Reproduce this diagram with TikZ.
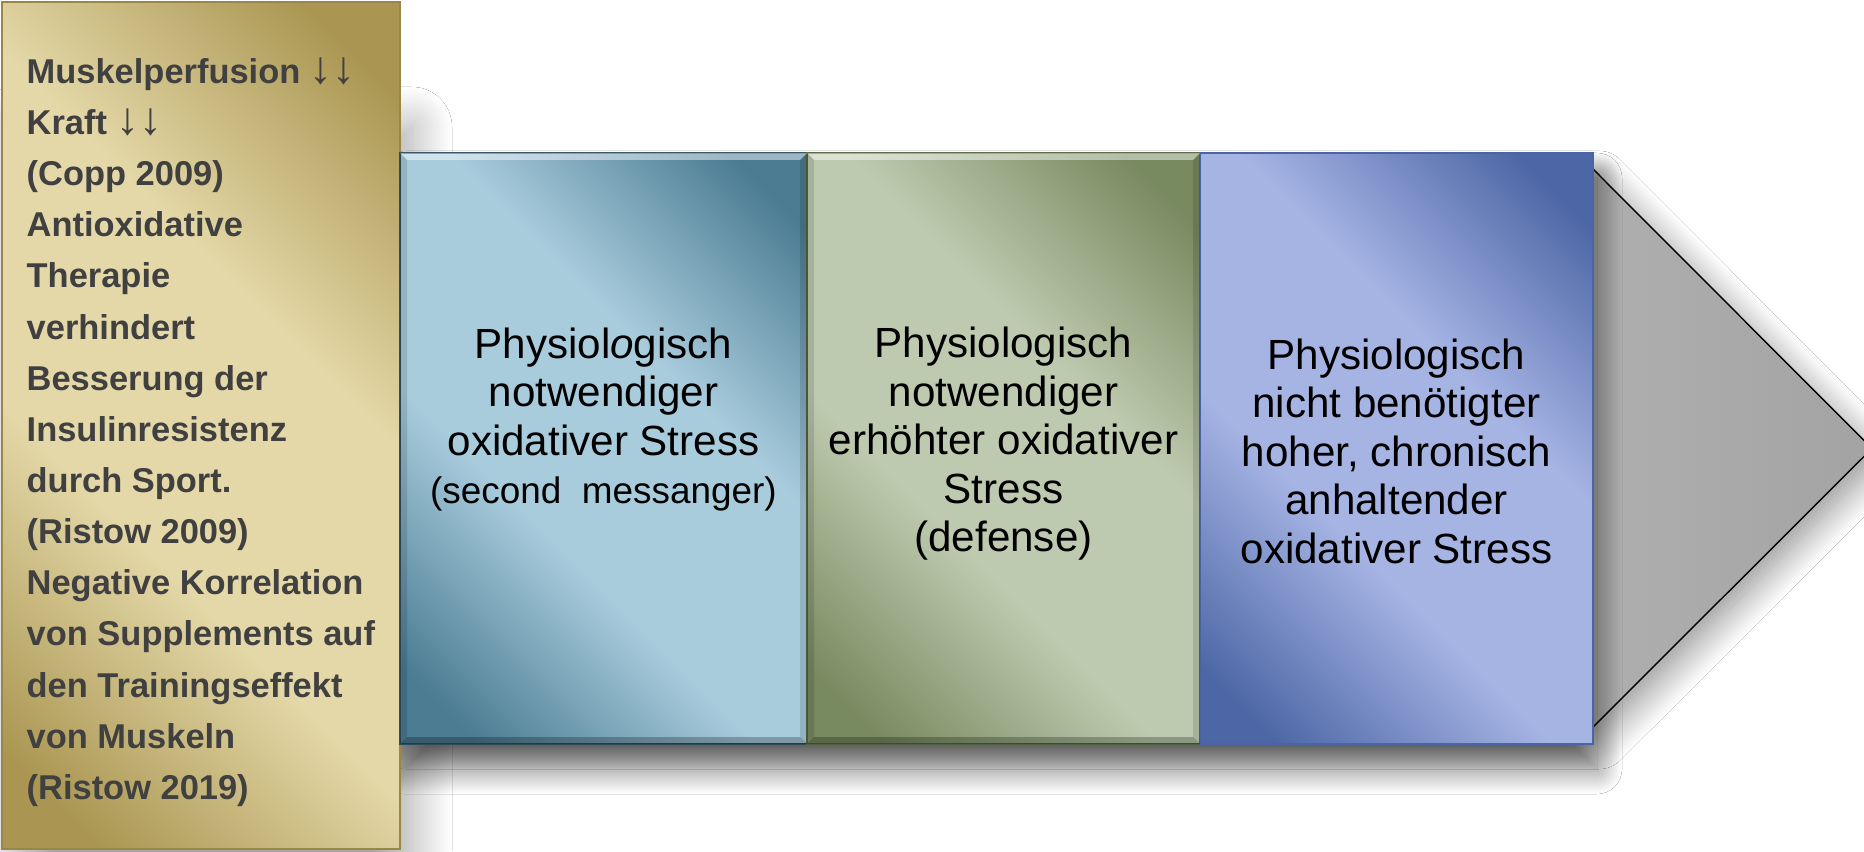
\documentclass[tikz,border=0pt]{standalone}
\usepackage{fontspec}
\setmainfont{Liberation Sans}
\usetikzlibrary{positioning,backgrounds,calc,shadows.blur}
\definecolor{golddark}{HTML}{AA9652}
\definecolor{goldlight}{HTML}{E4D8A8}
\definecolor{goldedge}{HTML}{9A8646}
\definecolor{goldtext}{HTML}{404040}
\definecolor{tealdark}{HTML}{4B7C92}
\definecolor{teallight}{HTML}{A9CCDD}
\definecolor{tealedge}{HTML}{2F4E5E}
\definecolor{olivedark}{HTML}{788A60}
\definecolor{olivelight}{HTML}{BECAAF}
\definecolor{oliveedge}{HTML}{55653F}
\definecolor{bluedark}{HTML}{4D67A6}
\definecolor{bluelight}{HTML}{A6B4E4}
\definecolor{blueedge}{HTML}{4A65A5}
\colorlet{pdark}{black}
\colorlet{plight}{white}
% dark - light - dark, with a wide light band
\pgfdeclareverticalshading[pdark,plight]{panelshade}{100bp}{color(0bp)=(pdark); color(20bp)=(pdark); color(40bp)=(plight); color(60bp)=(plight); color(80bp)=(pdark); color(100bp)=(pdark)}

\tikzset{
  panel/.style n args={3}{draw=#3, line width=0.5pt, inner sep=0pt, outer sep=0pt,
    /utils/exec={\colorlet{pdark}{#1}\colorlet{plight}{#2}},
    shade, shading=panelshade, shading angle=-45},
  stressbox/.style={minimum height=5.91cm},
  boxtext/.style={align=center, inner sep=0pt, text=black,
    font=\fontsize{12}{13.8}\selectfont},
  goldlines/.style={align=left, inner sep=0pt, text=goldtext,
    font=\fontsize{9.8}{14.55}\selectfont\bfseries},
  arrowbody/.style={draw=black, line width=0.4pt, left color=black!12, right color=black!36,
    blur shadow={shadow xshift=0.06cm, shadow yshift=-0.12cm, shadow blur radius=0.3cm,
      shadow blur steps=30, shadow opacity=45}}
}
\newcommand{\twodown}{{\mdseries\fontsize{13}{14.55}\selectfont ↓↓}}

\begin{document}
\begin{tikzpicture}
  \useasboundingbox (0,0) rectangle (18.64,8.51);

  % left panel with the references
  \node[panel={golddark}{goldlight}{goldedge}, minimum width=3.98cm, minimum height=8.47cm,
    anchor=north west] (gold) at (0.02,8.49) {};
  \node[goldlines, anchor=north west] (goldtxt) at ([xshift=0.24cm,yshift=-0.55cm]gold.north west)
    {Muskelperfusion \twodown\\Kraft \twodown\\(Copp 2009)\\Antioxidative\\Therapie\\verhindert\\Besserung der\\Insulinresistenz\\durch Sport.\\(Ristow 2009)\\Negative Korrelation\\von Supplements auf\\den Trainingseffekt\\von Muskeln\\(Ristow 2019)};

  % three stress levels
  \node[panel={tealdark}{teallight}{tealedge}, stressbox, minimum width=4.07cm,
    anchor=north west] (box1) at ([yshift=-1.51cm]gold.north east) {};
  \node[panel={olivedark}{olivelight}{oliveedge}, stressbox, minimum width=3.93cm,
    right=0pt of box1] (box2) {};
  \node[panel={bluedark}{bluelight}{blueedge}, stressbox, minimum width=3.93cm,
    right=0pt of box2] (box3) {};

  % bevel on the first two
  \foreach \b in {box1,box2} {
    \fill[white,opacity=0.45] (\b.north west) -- (\b.north east) -- ([shift={(-0.07,-0.07)}]\b.north east) -- ([shift={(0.07,-0.07)}]\b.north west) -- cycle;
    \fill[black,opacity=0.25] (\b.south west) -- (\b.south east) -- ([shift={(-0.07,0.07)}]\b.south east) -- ([shift={(0.07,0.07)}]\b.south west) -- cycle;
    \fill[black,opacity=0.12] (\b.north west) -- ([shift={(0.07,-0.07)}]\b.north west) -- ([shift={(0.07,0.07)}]\b.south west) -- (\b.south west) -- cycle;
    \fill[black,opacity=0.12] (\b.north east) -- ([shift={(-0.07,-0.07)}]\b.north east) -- ([shift={(-0.07,0.07)}]\b.south east) -- (\b.south east) -- cycle;
  }

  \node[boxtext] (txt1) at ([yshift=0.29cm]box1.center)
    {Physiol\textit{o}gisch\\notwendiger\\oxidativer Stress\\{\fontsize{10.5}{13}\selectfont (second\ \ messanger)}};
  \node[boxtext] (txt2) at ([yshift=0.045cm]box2.center)
    {Physiologisch\\notwendiger\\erhöhter oxidativer\\Stress\\(defense)};
  \node[boxtext] (txt3) at ([yshift=-0.025cm]box3.center)
    {Physiologisch\\nicht benötigter\\hoher, chronisch\\anhaltender\\oxidativer Stress};

  \begin{scope}[on background layer]
    \fill[white] (0,0) rectangle (18.64,8.51);
    % shadow of the left panel
    \path[blur shadow={shadow xshift=0.12cm, shadow yshift=-1.25cm, shadow blur radius=0.4cm,
      shadow blur steps=30, shadow opacity=35}]
      (gold.north west) rectangle (gold.south east);
    % grey arrow behind the panels
    \coordinate (tip) at ([xshift=2.79cm]box3.east);
    \path[arrowbody] ([yshift=-0.16cm]box1.north west) -- ([yshift=-0.16cm]box3.north east) -- (tip)
      -- ([yshift=0.17cm]box3.south east) -- ([yshift=0.17cm]box1.south west) -- cycle;
    % shadow of the three panels
    \path[blur shadow={shadow xshift=0.04cm, shadow yshift=-0.25cm, shadow blur radius=0.25cm,
      shadow blur steps=30, shadow opacity=55}]
      (box1.north west) rectangle (box3.south east);
  \end{scope}
\end{tikzpicture}
\end{document}
